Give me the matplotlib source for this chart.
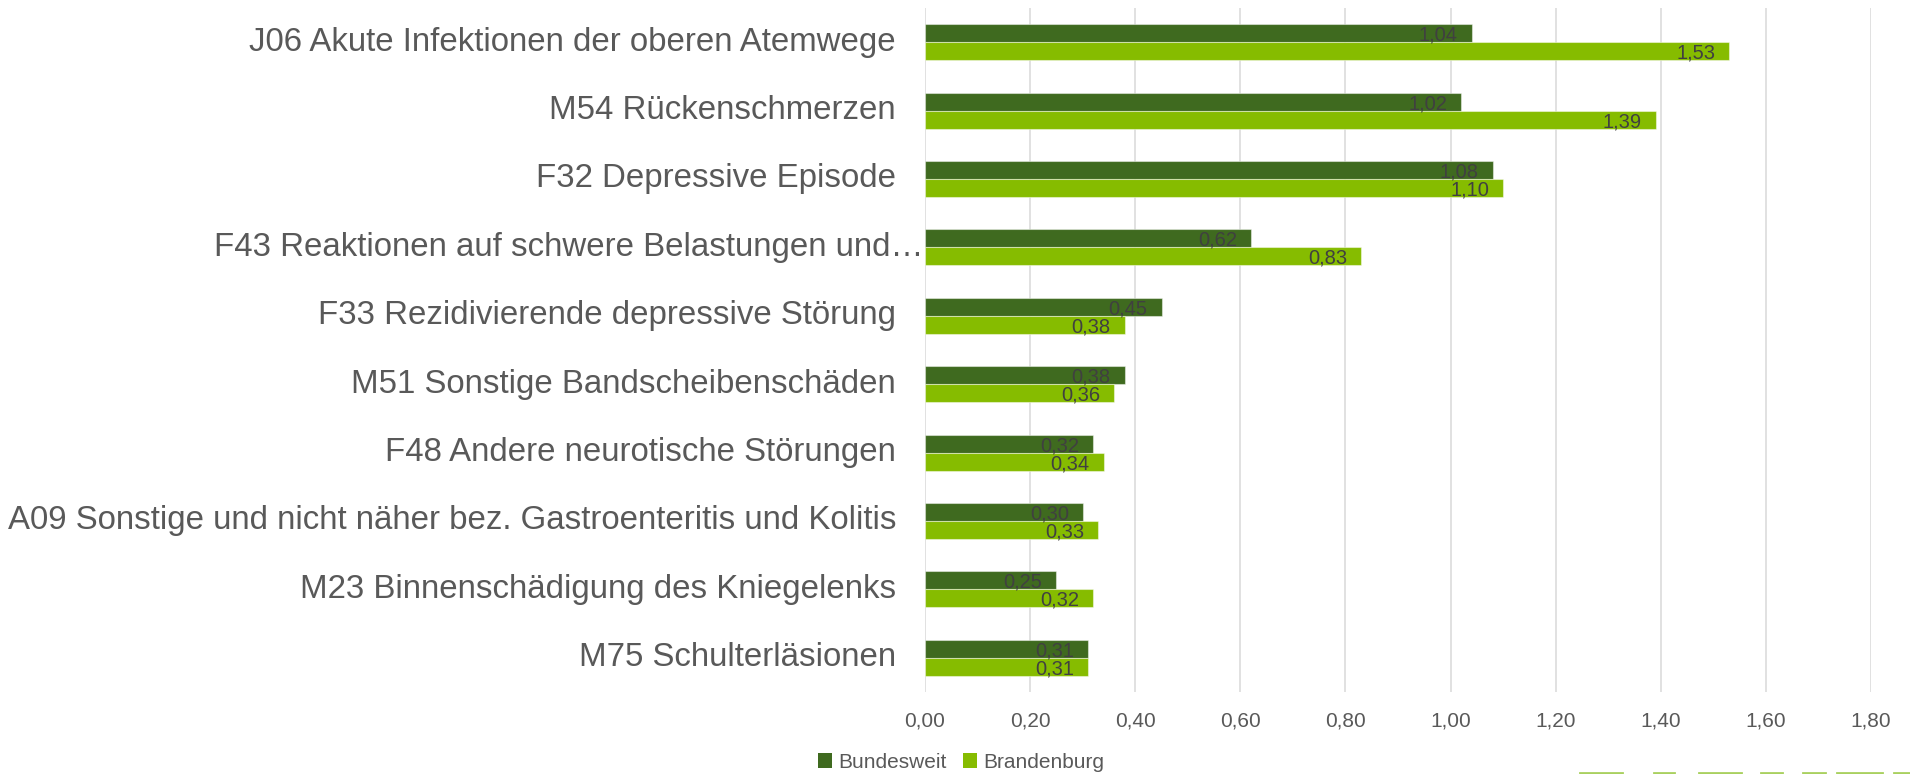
import matplotlib
matplotlib.use("Agg")
import matplotlib.pyplot as plt
import matplotlib.transforms as mtransforms
from matplotlib.lines import Line2D
from matplotlib.patches import Patch
import numpy as np

categories = [
    "J06 Akute Infektionen der oberen Atemwege",
    "M54 Rückenschmerzen",
    "F32 Depressive Episode",
    "F43 Reaktionen auf schwere Belastungen und…",
    "F33 Rezidivierende depressive Störung",
    "M51 Sonstige Bandscheibenschäden",
    "F48 Andere neurotische Störungen",
    "A09 Sonstige und nicht näher bez. Gastroenteritis und Kolitis",
    "M23 Binnenschädigung des Kniegelenks",
    "M75 Schulterläsionen",
]
bundesweit = [1.04, 1.02, 1.08, 0.62, 0.45, 0.38, 0.32, 0.30, 0.25, 0.31]
brandenburg = [1.53, 1.39, 1.10, 0.83, 0.38, 0.36, 0.34, 0.33, 0.32, 0.31]
series_names = ["Bundesweit", "Brandenburg"]
xticks = [0.0, 0.2, 0.4, 0.6, 0.8, 1.0, 1.2, 1.4, 1.6, 1.8]

DARK = "#3f6a1f"
LIGHT = "#86bc00"
TEXT = "#595959"
LABEL = "#404040"
GRID = "#d9d9d9"

plt.rcParams["font.family"] = ["Liberation Sans", "DejaVu Sans"]

W, H = 1910, 774
fig = plt.figure(figsize=(W / 100, H / 100), dpi=100)
ax = fig.add_axes([925 / W, 1 - 692 / H, (1871 - 925) / W, (692 - 8) / H])

y = np.arange(len(categories))
bh = 0.263
b1 = ax.barh(y - bh / 2, bundesweit, height=bh, color=DARK,
             edgecolor=(1, 1, 1, 0.45), linewidth=0.8, zorder=3)
b2 = ax.barh(y + bh / 2, brandenburg, height=bh, color=LIGHT,
             edgecolor=(1, 1, 1, 0.45), linewidth=0.8, zorder=3)

for bars, vals in ((b1, bundesweit), (b2, brandenburg)):
    for rect, v in zip(bars, vals):
        ax.annotate(f"{v:.2f}".replace(".", ","),
                    xy=(v, rect.get_y() + rect.get_height() / 2),
                    xytext=(-10, 0), textcoords="offset points",
                    ha="right", va="center_baseline", fontsize=14.5,
                    color=LABEL, zorder=5)

ax.set_xlim(0, 1.8)
ax.set_ylim(len(categories) - 0.5, -0.5)
ax.set_xticks(xticks)
ax.set_xticklabels([f"{t:.2f}".replace(".", ",") for t in xticks],
                   fontsize=15, color=TEXT)
ax.tick_params(axis="x", length=0, pad=14)
ax.set_yticks([])
ax.grid(axis="x", color=GRID, linewidth=1.1, zorder=0)
for s in ax.spines.values():
    s.set_visible(False)

# category labels
trans = mtransforms.blended_transform_factory(ax.transAxes, ax.transData)
for i, c in enumerate(categories):
    dx = -29 if not c.endswith("…") else -2
    t = mtransforms.offset_copy(trans, fig=fig, x=dx * 72 / 100, y=0, units="points")
    ax.text(0, i, c, transform=t, ha="right", va="center",
            fontsize=23.8, color=TEXT)

handles = [Patch(facecolor=DARK, edgecolor="none"),
           Patch(facecolor=LIGHT, edgecolor="none")]
fig.legend(handles, series_names, loc="center", bbox_to_anchor=(961 / W, 1 - 762 / H),
           ncol=2, frameon=False, fontsize=15, labelcolor=TEXT,
           handlelength=0.7, handleheight=0.7, handletextpad=0.3,
           columnspacing=0.75)

# cut-off decoration at bottom right edge
for x0, x1 in [(1580, 1622), (1654, 1674), (1699, 1741), (1761, 1782),
               (1803, 1825), (1837, 1882), (1894, 1910)]:
    fig.add_artist(Line2D([x0 / W, x1 / W], [1 / H, 1 / H], color="#a9d05f",
                          linewidth=2, transform=fig.transFigure))

fig.savefig("out.png", dpi=100, facecolor="white")
